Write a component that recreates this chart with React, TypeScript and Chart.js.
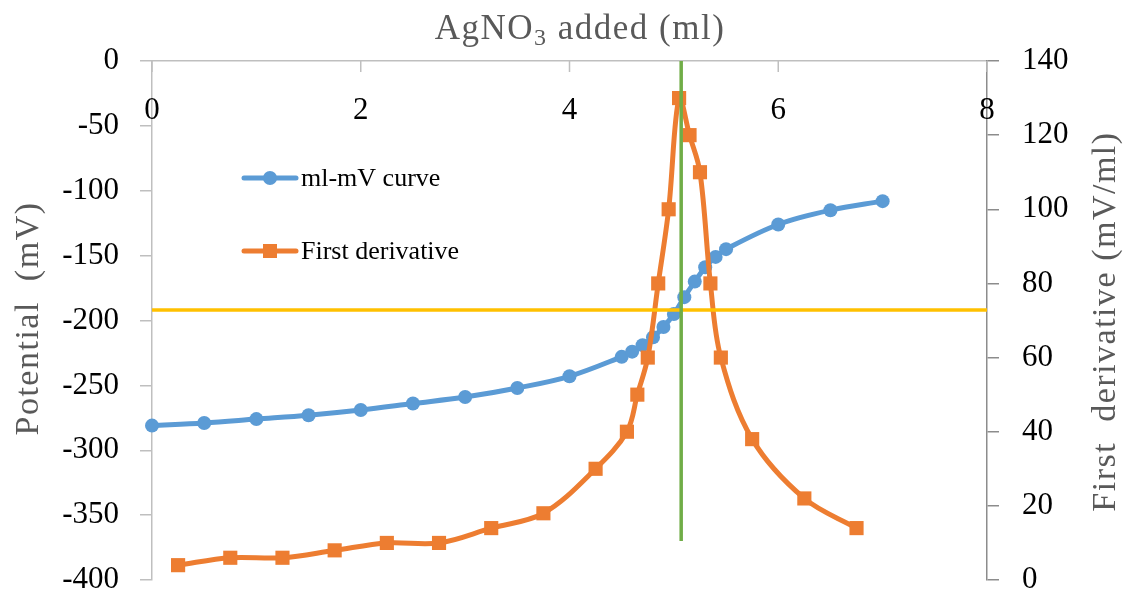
import React, { useEffect, useRef } from "react";
import { Chart, registerables } from "chart.js";

Chart.register(...registerables);

// ---- data ----
const volumeMl = [0, 0.5, 1, 1.5, 2, 2.5, 3, 3.5, 4, 4.5, 4.6, 4.7, 4.8, 4.9, 5.0, 5.1, 5.2, 5.3, 5.4, 5.5, 6, 6.5, 7];
const potentialMv = [-281, -279, -276, -273, -269, -264, -259, -252, -243, -228, -224, -219, -213, -205, -195, -182, -170, -159, -151, -145, -126, -115, -108];

const derivVolumeMl = [0.25, 0.75, 1.25, 1.75, 2.25, 2.75, 3.25, 3.75, 4.25, 4.55, 4.65, 4.75, 4.85, 4.95, 5.05, 5.15, 5.25, 5.35, 5.45, 5.75, 6.25, 6.75];
const firstDerivative = [4, 6, 6, 8, 10, 10, 14, 18, 30, 40, 50, 60, 80, 100, 130, 120, 110, 80, 60, 38, 22, 14];

const halfLineVolume = [0, 8];
const halfLinePotential = [-192, -192];
const endpointVolume = [5.07, 5.07];
const endpointPotential = [0, -370];

const seriesNames = ["ml-mV curve", "First derivative"];
const xTitleParts = ["AgNO", "3", " added (ml)"];
const yTitle = "Potential  (mV)";
const y1Title = "First  derivative (mV/ml)";

const BLUE = "#5B9BD5";
const ORANGE = "#ED7D31";
const YELLOW = "#FFC000";
const GREEN = "#70AD47";
const AXIS_LIGHT = "#bfbfbf";
const AXIS_DARK = "#8c8c8c";
const TITLE_GRAY = "#595959";
const FONT = "'Liberation Serif', 'Times New Roman', serif";

const toPoints = (xs: number[], ys: number[]) => xs.map((x, i) => ({ x, y: ys[i] }));

const overlayPlugin = {
  id: "overlay",
  afterDraw(chart: any) {
    const ctx: CanvasRenderingContext2D = chart.ctx;
    const area = chart.chartArea;
    const xs = chart.scales.x;
    ctx.save();

    // inward tick marks of the top x axis
    ctx.strokeStyle = AXIS_LIGHT;
    ctx.lineWidth = 1.5;
    xs.ticks.forEach((t: any) => {
      const px = xs.getPixelForValue(t.value);
      ctx.beginPath();
      ctx.moveTo(px, area.top);
      ctx.lineTo(px, area.top + 11);
      ctx.stroke();
    });

    // x tick labels inside the plot
    ctx.fillStyle = "#000";
    ctx.font = `31px ${FONT}`;
    ctx.textAlign = "center";
    ctx.textBaseline = "middle";
    xs.ticks.forEach((t: any) => {
      const px = xs.getPixelForValue(t.value);
      ctx.fillText(t.label !== undefined ? String(t.label) : String(t.value), px, area.top + 50);
    });

    // top title with subscript
    ctx.fillStyle = TITLE_GRAY;
    ctx.textAlign = "left";
    ctx.textBaseline = "alphabetic";
    (ctx as any).letterSpacing = "1.5px";
    const bigFont = `35px ${FONT}`;
    const subFont = `24px ${FONT}`;
    ctx.font = bigFont;
    const w0 = ctx.measureText(xTitleParts[0]).width;
    const w2 = ctx.measureText(xTitleParts[2]).width;
    ctx.font = subFont;
    const w1 = ctx.measureText(xTitleParts[1]).width;
    const total = w0 + w1 + w2;
    let cx = 580 - total / 2;
    const base = 39;
    ctx.font = bigFont;
    ctx.fillText(xTitleParts[0], cx, base);
    cx += w0;
    ctx.font = subFont;
    ctx.fillText(xTitleParts[1], cx, base + 6);
    cx += w1;
    ctx.font = bigFont;
    ctx.fillText(xTitleParts[2], cx, base);

    // vertical titles
    const midY = (area.top + area.bottom) / 2;
    (ctx as any).letterSpacing = "1.5px";
    ctx.font = `34px ${FONT}`;
    ctx.textAlign = "center";
    ctx.textBaseline = "middle";
    ctx.save();
    ctx.translate(29, midY - 2);
    ctx.rotate(-Math.PI / 2);
    ctx.fillText(yTitle, 0, 0);
    ctx.restore();
    ctx.save();
    ctx.translate(1106, midY + 1);
    ctx.rotate(-Math.PI / 2);
    ctx.fillText(y1Title, 0, 0);
    ctx.restore();
    (ctx as any).letterSpacing = "0px";

    // legend inside the plot
    const legendY = [178, 251];
    [0, 1].forEach((i) => {
      const ds = chart.data.datasets[i];
      const y = legendY[i];
      ctx.strokeStyle = ds.borderColor;
      ctx.lineWidth = ds.borderWidth;
      ctx.lineCap = "round";
      ctx.beginPath();
      ctx.moveTo(244, y);
      ctx.lineTo(296, y);
      ctx.stroke();
      ctx.fillStyle = ds.borderColor;
      if (ds.pointStyle === "rect") {
        ctx.fillRect(263, y - 7, 14, 14);
      } else {
        ctx.beginPath();
        ctx.arc(270, y, 7, 0, Math.PI * 2);
        ctx.fill();
      }
      ctx.fillStyle = "#000";
      ctx.font = `26px ${FONT}`;
      ctx.textAlign = "left";
      ctx.textBaseline = "middle";
      ctx.fillText(seriesNames[i], 301, y + 1);
    });

    ctx.restore();
  },
};

export default function App() {
  const canvasRef = useRef<HTMLCanvasElement | null>(null);

  useEffect(() => {
    const canvas = canvasRef.current;
    if (!canvas) return;
    const chart = new Chart(canvas, {
      type: "line",
      data: {
        datasets: [
          {
            label: seriesNames[0],
            data: toPoints(volumeMl, potentialMv),
            yAxisID: "y",
            borderColor: BLUE,
            backgroundColor: BLUE,
            borderWidth: 5,
            pointStyle: "circle",
            pointRadius: 7,
            pointBorderWidth: 0,
            pointBackgroundColor: BLUE,
            tension: 0.35,
            clip: false,
            order: 3,
          },
          {
            label: seriesNames[1],
            data: toPoints(derivVolumeMl, firstDerivative),
            yAxisID: "y1",
            borderColor: ORANGE,
            backgroundColor: ORANGE,
            borderWidth: 5,
            pointStyle: "rect",
            pointRadius: 10,
            pointBorderWidth: 0,
            pointBackgroundColor: ORANGE,
            tension: 0.35,
            clip: false,
            order: 2,
          },
          {
            label: "half",
            data: toPoints(halfLineVolume, halfLinePotential),
            yAxisID: "y",
            borderColor: YELLOW,
            borderWidth: 3.5,
            pointRadius: 0,
            tension: 0,
            order: 1,
          },
          {
            label: "endpoint",
            data: toPoints(endpointVolume, endpointPotential),
            yAxisID: "y",
            borderColor: GREEN,
            borderWidth: 3.5,
            pointRadius: 0,
            tension: 0,
            order: 0,
          },
        ] as any,
      },
      options: {
        responsive: false,
        devicePixelRatio: 1,
        animation: false,
        layout: { padding: { left: 0, right: 0, top: 0, bottom: 13 } },
        plugins: { legend: { display: false }, tooltip: { enabled: false } },
        scales: {
          x: {
            type: "linear",
            position: "top",
            min: 0,
            max: 8,
            ticks: { stepSize: 2, display: false },
            grid: { drawOnChartArea: false, drawTicks: false },
            border: { display: true, color: AXIS_LIGHT, width: 1.5 },
            afterFit: (s: any) => {
              s.height = 61;
              s.paddingLeft = 0;
              s.paddingRight = 0;
            },
          },
          y: {
            type: "linear",
            position: "left",
            min: -400,
            max: 0,
            ticks: {
              stepSize: 50,
              color: "#000",
              padding: 21,
              font: { family: FONT, size: 31 },
            },
            grid: { drawOnChartArea: false, drawTicks: true, tickLength: 12, color: AXIS_LIGHT, lineWidth: 1.5 },
            border: { display: true, color: AXIS_LIGHT, width: 1.5 },
            afterFit: (s: any) => {
              s.width = 152;
              s.paddingTop = 0;
              s.paddingBottom = 0;
            },
          },
          y1: {
            type: "linear",
            position: "right",
            min: 0,
            max: 140,
            ticks: {
              stepSize: 20,
              color: "#000",
              padding: 23,
              font: { family: FONT, size: 31 },
            },
            grid: { drawOnChartArea: false, drawTicks: true, tickLength: 12, color: AXIS_DARK, lineWidth: 1.5 },
            border: { display: true, color: AXIS_DARK, width: 1.5 },
            afterFit: (s: any) => {
              s.width = 138;
              s.paddingTop = 0;
              s.paddingBottom = 0;
            },
          },
        },
      } as any,
      plugins: [overlayPlugin],
    });
    return () => chart.destroy();
  }, []);

  return (
    <div style={{ position: "absolute", left: 0, top: 0, width: 1125, height: 593, background: "#fff" }}>
      <canvas ref={canvasRef} width={1125} height={593} style={{ display: "block" }} />
    </div>
  );
}
